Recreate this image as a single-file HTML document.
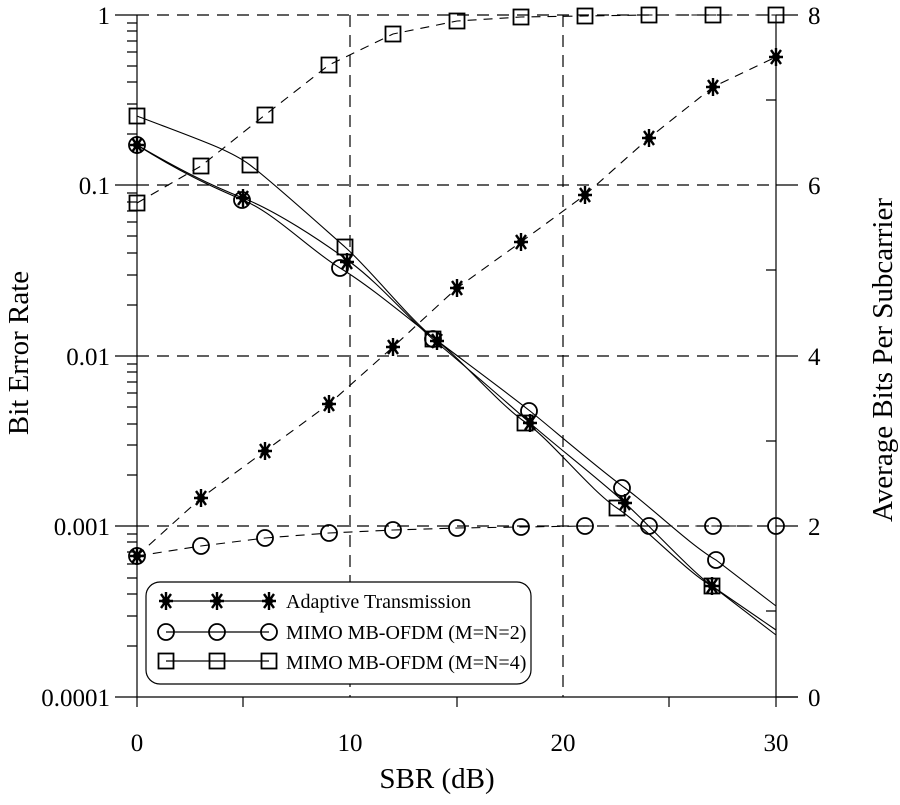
<!DOCTYPE html><html><head><style>body{margin:0;background:#fff}svg text{font-family:"Liberation Serif",serif;fill:#000}</style></head><body>
<svg width="900" height="800" xmlns="http://www.w3.org/2000/svg">
<defs>
<g id="st"><path d="M-7,0H7M0,-9V9M-5,-7L5,7M-5,7L5,-7" stroke="#000" stroke-width="2.4"/><circle r="4" fill="#000"/></g>
<g id="ci"><circle r="8" fill="none" stroke="#000" stroke-width="1.8"/></g>
<g id="sq"><rect x="-7.5" y="-7.5" width="15" height="15" fill="none" stroke="#000" stroke-width="1.8"/></g>
</defs>
<g stroke="#000" stroke-width="1.2" fill="none">
<g stroke-dasharray="12,8">
<path d="M137,15H776M137,185H776M137,356H776M137,526H776M350,15V697M563,15V697"/>
</g>
<path d="M137,15V707M115,697H798M776,15V707"/>
<path d="M115,15H137M115,185H137M115,356H137M115,526H137"/>
<path d="M776,15H798M776,185H798M776,356H798M776,526H798M776,697H798M766,100H776M766,270H776M766,441H776M766,611H776"/>
<path d="M243,697V707M457,697V707M669,697V707"/>
</g>
<g stroke="#000" stroke-width="1.2">
<path d="M127,134H137M127,104H137M127,82H137M127,66H137M127,52H137M127,41H137M127,31H137M127,23H137
M127,305H137M127,275H137M127,253H137M127,236H137M127,222H137M127,211H137M127,202H137M127,193H137
M127,475H137M127,445H137M127,424H137M127,407H137M127,393H137M127,382H137M127,372H137M127,364H137
M127,646H137M127,616H137M127,594H137M127,578H137M127,564H137M127,552H137M127,542H137M127,534H137"/>
</g>
<g fill="none" stroke="#000" stroke-width="1.1">
<path d="M137,145 C180,170 210,185 243,198 S320,240 350,262 S410,320 435,341 S510,405 530,423 S600,480 625,503 S690,570 712,586 L776,635"/>
<path d="M137,145 C180,172 210,186 243,200 S310,250 340,268 S410,320 435,339 S510,395 530,411 S600,470 625,488 S690,545 716,560 L776,606"/>
<path d="M137,116 C200,140 230,150 250,165 S320,225 345,247 S410,320 435,339 S500,405 525,422 S590,490 617,508 S690,575 712,586 L776,630"/>
</g>
<g fill="none" stroke="#000" stroke-width="1.1" stroke-dasharray="9,7">
<polyline points="137,556 201,498 265,451 329,404 393,347 457,288 521,242 585,195 649,138 713,87 776,57"/>
<polyline points="137,556 201,546 265,538 329,533 393,530 457,528 521,527 585,526 649,526 713,526 776,526"/>
<polyline points="137,203 201,166 265,115 329,65 393,34 457,21 521,17 585,16 649,15 713,15 776,15"/>
</g>
<g>
<use href="#st" x="137" y="145"/><use href="#st" x="243" y="198"/><use href="#st" x="347" y="262"/><use href="#st" x="437" y="341"/><use href="#st" x="530" y="423"/><use href="#st" x="625" y="503"/><use href="#st" x="712" y="586"/>
<use href="#ci" x="137" y="145"/><use href="#ci" x="242" y="200"/><use href="#ci" x="340" y="268"/><use href="#ci" x="433" y="339"/><use href="#ci" x="529" y="411"/><use href="#ci" x="622" y="488"/><use href="#ci" x="716" y="560"/>
<use href="#sq" x="137" y="116"/><use href="#sq" x="250" y="165"/><use href="#sq" x="345" y="247"/><use href="#sq" x="433" y="339"/><use href="#sq" x="525" y="423"/><use href="#sq" x="617" y="508"/><use href="#sq" x="712" y="586"/>
<use href="#st" x="137" y="556"/><use href="#st" x="201" y="498"/><use href="#st" x="265" y="451"/><use href="#st" x="329" y="404"/><use href="#st" x="393" y="347"/><use href="#st" x="457" y="288"/><use href="#st" x="521" y="242"/><use href="#st" x="585" y="195"/><use href="#st" x="649" y="138"/><use href="#st" x="713" y="87"/><use href="#st" x="776" y="57"/>
<use href="#ci" x="137" y="556"/><use href="#ci" x="201" y="546"/><use href="#ci" x="265" y="538"/><use href="#ci" x="329" y="533"/><use href="#ci" x="393" y="530"/><use href="#ci" x="457" y="528"/><use href="#ci" x="521" y="527"/><use href="#ci" x="585" y="526"/><use href="#ci" x="649" y="526"/><use href="#ci" x="713" y="526"/><use href="#ci" x="776" y="526"/>
<use href="#sq" x="137" y="203"/><use href="#sq" x="201" y="166"/><use href="#sq" x="265" y="115"/><use href="#sq" x="329" y="65"/><use href="#sq" x="393" y="34"/><use href="#sq" x="457" y="21"/><use href="#sq" x="521" y="17"/><use href="#sq" x="585" y="16"/><use href="#sq" x="649" y="15"/><use href="#sq" x="713" y="15"/><use href="#sq" x="776" y="15"/>
</g>
<rect x="146" y="582" width="385" height="102" rx="14" fill="#fff" stroke="#000" stroke-width="1.2"/>
<path d="M166,601H269M166,632H269M166,661H269" stroke="#000" stroke-width="1.2"/>
<use href="#st" x="166" y="601"/><use href="#st" x="217" y="601"/><use href="#st" x="269" y="601"/>
<use href="#ci" x="166" y="632"/><use href="#ci" x="217" y="632"/><use href="#ci" x="269" y="632"/>
<use href="#sq" x="166" y="661"/><use href="#sq" x="217" y="661"/><use href="#sq" x="269" y="661"/>
<g font-size="20"><text x="286" y="608">Adaptive Transmission</text><text x="286" y="639">MIMO MB-OFDM (M=N=2)</text><text x="286" y="669">MIMO MB-OFDM (M=N=4)</text></g>
<g font-size="25" text-anchor="end"><text x="110" y="24">1</text><text x="110" y="194">0.1</text><text x="110" y="365">0.01</text><text x="110" y="535">0.001</text><text x="110" y="706">0.0001</text></g>
<g font-size="25"><text x="808" y="24">8</text><text x="808" y="194">6</text><text x="808" y="365">4</text><text x="808" y="535">2</text><text x="808" y="706">0</text></g>
<g font-size="25" text-anchor="middle"><text x="137" y="751">0</text><text x="350" y="751">10</text><text x="563" y="751">20</text><text x="776" y="751">30</text></g>
<g font-size="29" text-anchor="middle">
<text x="437" y="788">SBR (dB)</text>
<text transform="translate(28,353) rotate(-90)">Bit Error Rate</text>
<text transform="translate(892,360) rotate(-90)">Average Bits Per Subcarrier</text></g>
</svg></body></html>
